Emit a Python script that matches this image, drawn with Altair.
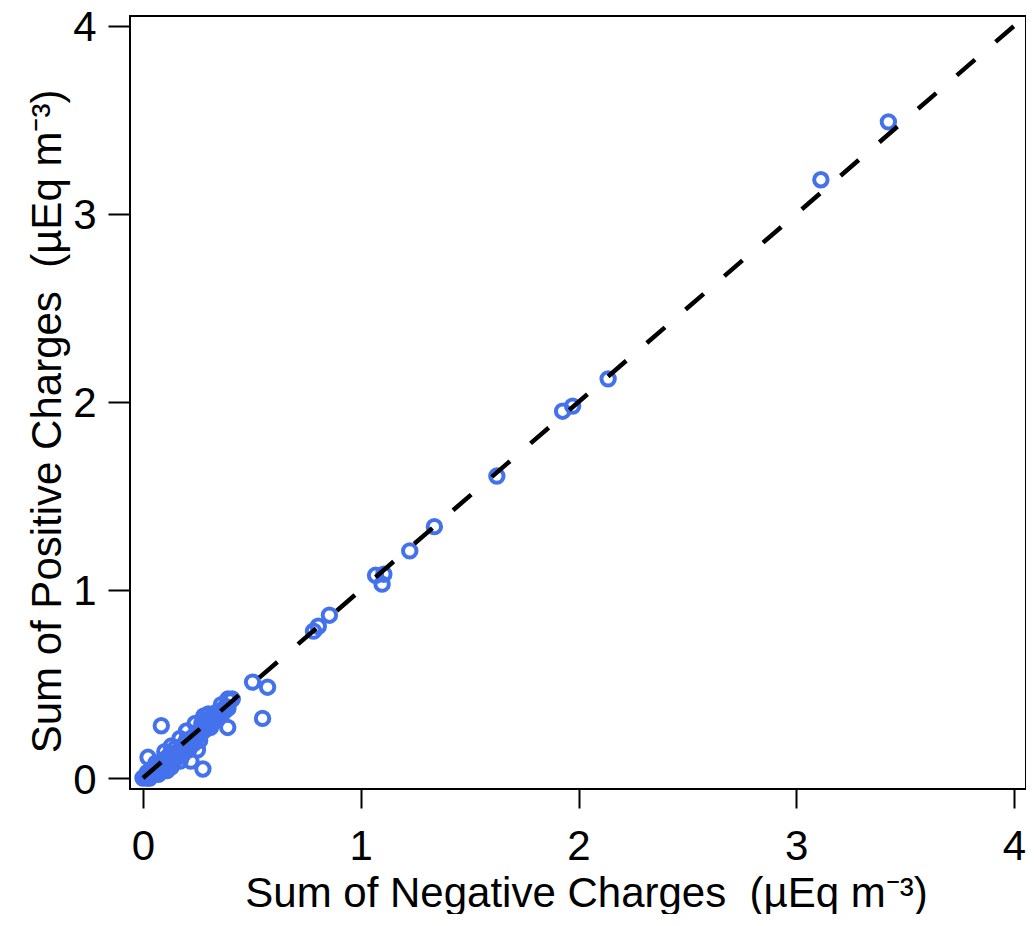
import altair as alt
import pandas as pd

# Sum of negative charges (x) and sum of positive charges (y), µEq m-3
neg = [0.00, 0.01, 0.02, 0.03, 0.04, 0.05, 0.05, 0.06, 0.07, 0.08, 0.08, 0.09,
       0.10, 0.10, 0.10, 0.11, 0.11, 0.12, 0.13, 0.13, 0.13, 0.14, 0.15, 0.15,
       0.16, 0.17, 0.17, 0.17, 0.18, 0.18, 0.19, 0.20, 0.20, 0.20, 0.21, 0.22,
       0.22, 0.23, 0.24, 0.24, 0.25, 0.25, 0.26, 0.27, 0.27, 0.28, 0.28, 0.29,
       0.30, 0.30, 0.31, 0.32, 0.33, 0.33, 0.34, 0.35, 0.36, 0.37, 0.38, 0.39,
       0.39, 0.40, 0.41,
       0.02, 0.03, 0.06, 0.07, 0.09, 0.12, 0.14, 0.16, 0.19, 0.21, 0.23, 0.26,
       0.29, 0.31, 0.34, 0.36,
       0.023, 0.084, 0.275, 0.389, 0.549, 0.503, 0.572, 0.783, 0.805, 0.856,
       1.068, 1.106, 1.098, 1.225, 1.338, 1.625, 1.927, 1.973, 2.136, 3.113, 3.423]
pos = [0.00, 0.01, 0.00, 0.02, 0.03, 0.02, 0.05, 0.04, 0.06, 0.05, 0.03, 0.08,
       0.07, 0.10, 0.14, 0.09, 0.04, 0.12, 0.10, 0.06, 0.17, 0.13, 0.12, 0.16,
       0.14, 0.15, 0.09, 0.21, 0.17, 0.12, 0.18, 0.16, 0.20, 0.25, 0.19, 0.09,
       0.21, 0.18, 0.23, 0.29, 0.15, 0.22, 0.25, 0.24, 0.29, 0.28, 0.33, 0.26,
       0.29, 0.34, 0.30, 0.32, 0.31, 0.345, 0.34, 0.33, 0.36, 0.35, 0.38, 0.37,
       0.42, 0.41, 0.42,
       0.03, 0.00, 0.08, 0.02, 0.05, 0.08, 0.09, 0.11, 0.14, 0.15, 0.21, 0.20,
       0.31, 0.27, 0.31, 0.39,
       0.110, 0.278, 0.048, 0.269, 0.317, 0.510, 0.483, 0.781, 0.807, 0.866,
       1.078, 1.084, 1.031, 1.208, 1.337, 1.606, 1.951, 1.978, 2.123, 3.182, 3.490]

# 1:1 reference line
line_x = [0, 4]
line_y = [0, 4]

tick_values = [0, 1, 2, 3, 4]

FONT = "Liberation Sans"
BLUE = "#4472EC"
FS = 42

x_scale = alt.Scale(domain=[-0.0597, 4.055], nice=False, zero=False)
y_scale = alt.Scale(domain=[-0.0585, 4.053], nice=False, zero=False)

x_axis = alt.Axis(
    values=tick_values, format="d", title="Sum of Negative Charges\u00a0 (µEq m⁻³)",
    domain=False, grid=False, tickSize=19, tickWidth=2, tickColor="black",
    labelFontSize=FS, labelFont=FONT, labelColor="black", labelPadding=18,
    labelFlush=False,
    titleFontSize=FS, titleFont=FONT, titleFontWeight="normal", titleColor="black",
    titleBaseline="alphabetic", titleY=117, titleX=456, titleAlign="center",
)
y_axis = alt.Axis(
    values=tick_values, format="d", title="Sum of Positive Charges\u00a0 (µEq m⁻³)",
    domain=False, grid=False, tickSize=22, tickWidth=2, tickColor="black",
    labelFontSize=FS, labelFont=FONT, labelColor="black", labelPadding=12,
    labelFlush=False, labelOffset=2,
    titleFontSize=FS, titleFont=FONT, titleFontWeight="normal", titleColor="black",
    titleAngle=270, titleBaseline="alphabetic", titleX=-70, titleY=405,
    titleAlign="center",
)

points = alt.Chart(pd.DataFrame({"neg": neg, "pos": pos})).mark_point(
    shape="circle", filled=False, size=180, strokeWidth=4, color=BLUE, opacity=1
).encode(
    x=alt.X("neg:Q", scale=x_scale, axis=x_axis),
    y=alt.Y("pos:Q", scale=y_scale, axis=y_axis),
)

line = alt.Chart(pd.DataFrame({"x": line_x, "y": line_y})).mark_line(
    color="black", strokeWidth=4.5, strokeDash=[24, 27.2]
).encode(
    x=alt.X("x:Q", scale=x_scale),
    y=alt.Y("y:Q", scale=y_scale),
)

chart = alt.layer(points, line).properties(
    width=896, height=773,
    autosize=alt.AutoSizeParams(type="none"),
    padding={"left": 122, "top": 8, "right": 0, "bottom": 125},
).configure_view(stroke="black", strokeWidth=2)

chart.save("out.html", embed_options={"renderer": "svg", "actions": False})
